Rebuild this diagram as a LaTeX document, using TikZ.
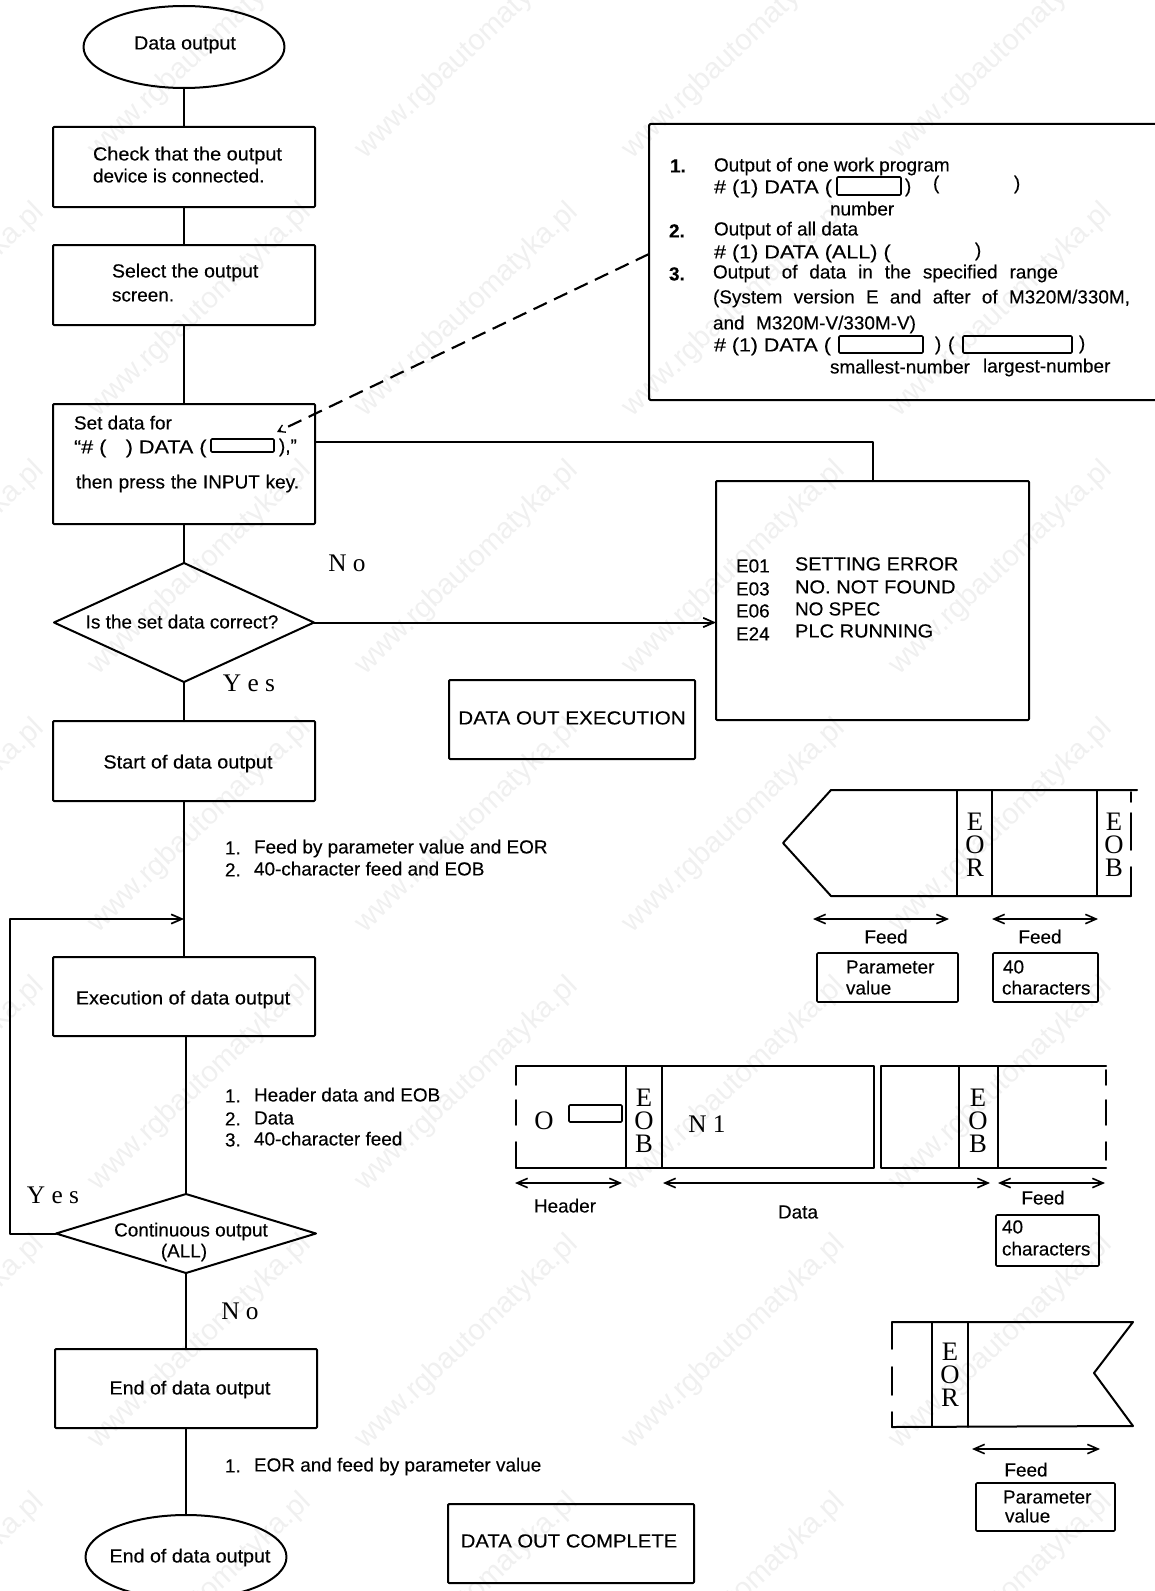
\documentclass[tikz,border=0pt]{standalone}
\usepackage{graphicx}
\usepackage{fontspec}
\setmainfont{Liberation Sans}
\newfontfamily\sanf[FakeBold=0.25]{Liberation Sans}
\newfontfamily\serf{Liberation Serif}
\usetikzlibrary{shapes.geometric,arrows.meta}
\newcount\tcnt
\tikzset{
  x=0.75pt,y=-0.75pt,
  ln/.style={line width=1.5pt,line cap=round,line join=round,black},
  thin ln/.style={line width=1.2pt,line cap=round,line join=round,black},
  boxs/.style={draw,ln,rectangle,rounded corners=0.8pt,inner sep=0,outer sep=0},
  sbox/.style={draw,thin ln,rectangle,rounded corners=0.8pt,inner sep=0,outer sep=0},
  ell/.style={draw,ln,ellipse,inner sep=0,outer sep=0},
  dia/.style={draw,ln,diamond,inner sep=0,outer sep=0},
  txt/.style={anchor=mid west,yshift=-2.2pt,inner sep=0,outer sep=0,font=\sanf\fontsize{14.2}{17}\selectfont,black},
  ctxt/.style={anchor=mid,yshift=-2.2pt,inner sep=0,outer sep=0,font=\sanf\fontsize{14.2}{17}\selectfont,black},
  ser/.style={anchor=center,inner sep=0,outer sep=0,font=\serf\fontsize{20}{24}\selectfont,black},
  lab/.style={anchor=center,inner sep=0,outer sep=0,font=\serf\fontsize{19}{22}\selectfont,black},
  wm/.style={anchor=center,inner sep=0,outer sep=0,rotate=43.5,font=\fontsize{22}{24}\selectfont,text=black!6},
  arr/.style={-{Straight Barb[length=8pt,width=7pt,line width=1.3pt]}},
  darr/.style={{Straight Barb[length=8pt,width=7pt,line width=1.2pt]}-{Straight Barb[length=8pt,width=7pt,line width=1.2pt]}},
}
\newcommand\bx[6][boxs]{\node[#1,minimum width={(#5-#3)*0.75pt},minimum height={(#6-#4)*0.75pt}] (#2) at ({(#3+#5)/2},{(#4+#6)/2}) {};}
\newcommand\tl[3]{\global\advance\tcnt by 1 \node[txt] (t\the\tcnt) at (#1,#2) {#3};}
\newcommand\tlw[4]{\global\advance\tcnt by 1 \node[txt] (t\the\tcnt) at (#1,#2) {\makebox[\dimexpr #3pt*3/4\relax][s]{#4}};}
\newcommand\hx[2]{\scalebox{#1}[1]{#2}}
\newcommand\tc[3]{\global\advance\tcnt by 1 \node[ctxt] (t\the\tcnt) at (#1,#2) {#3};}
\newcommand\sr[3]{\global\advance\tcnt by 1 \node[ser] (t\the\tcnt) at (#1,#2) {#3};}
\newcommand\lb[3]{\global\advance\tcnt by 1 \node[lab] (t\the\tcnt) at (#1,#2) {#3};}
\begin{document}
\begin{tikzpicture}
\useasboundingbox (0,0) rectangle (1155,1591);
% watermark
\foreach \i in {-2,...,3}{\foreach \j in {0,...,6}{
  \node[wm] (w\i\j) at ({467+267*\i},{52+258*\j}) {www.rgbautomatyka.pl};
}}
% main flow
\node[ell,minimum width=201*0.75pt,minimum height=82*0.75pt] (start) at (184,47) {};
\bx{b1}{53}{127}{315}{207}
\bx{b2}{53}{245}{315}{325}
\bx{b3}{53}{404}{315}{524}
\node[dia,minimum width=260*0.75pt,minimum height=119*0.75pt] (d1) at (184,622.5) {};
\bx{b4}{53}{721}{315}{801}
\bx{b5}{53}{957}{315}{1036}
\node[dia,minimum width=260*0.75pt,minimum height=79*0.75pt] (d2) at (186,1233.5) {};
\bx{b6}{55}{1349}{317}{1428}
\node[ell,minimum width=201*0.75pt,minimum height=84*0.75pt] (stop) at (186,1557) {};
\draw[ln] (start) -- (b1);
\draw[ln] (b1) -- (b2);
\draw[ln] (b2) -- (b3);
\draw[ln] (b3) -- (d1);
\draw[ln] (d1) -- (b4);
\draw[ln] (b4) -- (b5);
\draw[ln] (b5.south -| d2.north) -- (d2.north);
\draw[ln] (d2) -- (b6);
\draw[ln] (b6) -- (stop);
% right side boxes
\bx{err}{716}{481}{1029}{720}
\bx{ex}{449}{680}{695}{759}
\bx{co}{448}{1504}{694}{1583}
\coordinate (b3o) at (315,442);
\draw[ln] (b3o) -| (err.north);
\draw[ln,arr] (d1.east) -- (err.west |- d1.east);
\coordinate (j) at (184,919);
\coordinate (lt) at (10,919);
\draw[ln,arr] (d2.west) -| (lt) -- (j);
% info box (open at the right)
\draw[ln,rounded corners=1pt] (1155,124) -- (649,124) -- (649,400) -- (1155,400);
\coordinate (ds) at (649,254);
\coordinate (slot) at (277,432);
\draw[line width=1.6pt,black,dash pattern=on 11pt off 6pt,-{Straight Barb[length=5pt,width=6pt,line width=1pt]}] (ds) -- (slot);
% box inserts
\bx[sbox]{s0}{211}{439}{274}{452}
\bx[sbox]{s1}{837}{177}{901}{195}
\bx[sbox]{s2}{839}{336}{923}{353}
\bx[sbox]{s3}{963}{336}{1072}{353}
\bx[sbox]{s4}{569}{1105}{622}{1122}
% flow text
\tc{185}{43}{\hx{1.04}{Data output}}
\tl{93}{154}{\hx{1.05}{Check that the output}}
\tl{93}{176}{device is connected.}
\tl{112}{271}{\hx{1.03}{Select the output}}
\tl{112}{295}{screen.}
\tl{74}{423}{Set data for}
\tl{74}{447}{\hx{1.14}{“\# (\hspace{0.9em}) DATA (}}
\tl{279}{446}{),”}
\tlw{76}{482}{223}{then press the INPUT key.}
\tc{182}{622}{Is the set data correct?}
\tc{188}{762}{\hx{1.05}{Start of data output}}
\tc{183}{998}{\hx{1.05}{Execution of data output}}
\tc{191}{1230}{Continuous output}
\tc{184}{1251}{(ALL)}
\tc{190}{1388}{\hx{1.04}{End of data output}}
\tc{190}{1556}{\hx{1.04}{End of data output}}
\tc{572}{718}{\hx{1.09}{DATA OUT EXECUTION}}
\tc{569}{1541}{\hx{1.07}{DATA OUT COMPLETE}}
\lb{347}{563}{N o}
\lb{249}{683}{Y e s}
\lb{53}{1195}{Y e s}
\lb{240}{1311}{N o}
% step lists
\tl{225}{848}{1.}\tl{254}{847}{Feed by parameter value and EOR}
\tl{225}{870}{2.}\tl{254}{869}{40-character feed and EOB}
\tl{225}{1096}{1.}\tl{254}{1095}{Header data and EOB}
\tl{225}{1119}{2.}\tl{254}{1118}{Data}
\tl{225}{1140}{3.}\tl{254}{1139}{40-character feed}
\tl{225}{1466}{1.}\tl{254}{1465}{EOR and feed by parameter value}
% info text
\tl{670}{166}{\textbf{1.}}\tl{714}{165}{Output of one work program}
\tl{714}{187}{\hx{1.14}{\# (1) DATA (}}\tl{905}{186}{)}\tl{933}{183}{(}\tl{1014}{183}{)}
\tl{830}{209}{number}
\tl{669}{231}{\textbf{2.}}\tl{714}{229}{Output of all data}
\tl{714}{252}{\hx{1.14}{\# (1) DATA (ALL) (}}\tl{975}{250}{)}
\tl{669}{274}{\textbf{3.}}\tlw{713}{272}{345}{Output of data in the specified range}
\tlw{713}{297}{417}{(System version E and after of M320M/330M,}
\tlw{713}{323}{203}{and M320M-V/330M-V)}
\tl{714}{345}{\hx{1.13}{\# (1) DATA (}}\tl{935}{344}{)}\tl{948}{344}{(}\tl{1079}{343}{)}
\tl{830}{367}{smallest-number}\tl{983}{366}{largest-number}
% error text
\tl{736}{566}{E01}\tl{795}{564}{\hx{1.05}{SETTING ERROR}}
\tl{736}{589}{E03}\tl{795}{587}{\hx{1.06}{NO. NOT FOUND}}
\tl{736}{611}{E06}\tl{795}{609}{NO SPEC}
\tl{736}{634}{E24}\tl{795}{631}{\hx{1.06}{PLC RUNNING}}
% tape 1
\draw[ln] (1137,790) -- (831,790) -- (783,843) -- (831,896) -- (1131,896);
\draw[thin ln] (957,790) -- (957,896);
\draw[thin ln] (992,790) -- (992,896);
\draw[thin ln] (1097,790) -- (1097,896);
\draw[thin ln] (1131,792) -- (1131,802) (1131,813) -- (1131,850) (1131,867) -- (1131,896);
\sr{975}{822}{E}\sr{975}{845}{O}\sr{975}{868}{R}
\sr{1114}{822}{E}\sr{1114}{845}{O}\sr{1114}{868}{B}
\draw[thin ln,darr] (813,919) -- (949,919);
\draw[thin ln,darr] (992,919) -- (1098,919);
\tc{886}{937}{Feed}\tc{1040}{937}{Feed}
\bx[sbox]{p1}{817}{953}{958}{1002}
\bx[sbox]{c1}{993}{953}{1098}{1002}
\tl{846}{967}{Parameter}\tl{846}{988}{value}
\tl{1003}{967}{40}\tl{1002}{988}{characters}
% tape 2
\draw[ln] (516,1066) -- (874,1066) -- (874,1168) -- (516,1168);
\draw[ln] (1106,1066) -- (881,1066) -- (881,1168) -- (1106,1168);
\draw[thin ln] (516,1066) -- (516,1085) (516,1100) -- (516,1125) (516,1142) -- (516,1168);
\draw[thin ln] (1106,1070) -- (1106,1085) (1106,1100) -- (1106,1125) (1106,1142) -- (1106,1160);
\draw[thin ln] (626,1066) -- (626,1168);
\draw[thin ln] (662,1066) -- (662,1168);
\draw[thin ln] (959,1066) -- (959,1168);
\draw[thin ln] (998,1066) -- (998,1168);
\sr{544}{1121}{O}
\sr{644}{1098}{E}\sr{644}{1121}{O}\sr{644}{1144}{B}
\lb{707}{1124}{N 1}
\sr{978}{1098}{E}\sr{978}{1121}{O}\sr{978}{1144}{B}
\draw[thin ln,darr] (515,1183) -- (622,1183);
\draw[thin ln,darr] (663,1183) -- (990,1183);
\draw[thin ln,darr] (998,1183) -- (1105,1183);
\tc{565}{1206}{Header}\tc{798}{1212}{Data}\tc{1043}{1198}{Feed}
\bx[sbox]{c2}{996}{1215}{1099}{1266}
\tl{1002}{1227}{40}\tl{1002}{1249}{characters}
% tape 3
\draw[ln] (892,1322) -- (1133,1322) -- (1094,1373) -- (1133,1426) -- (892,1427);
\draw[thin ln] (892,1322) -- (892,1349) (892,1367) -- (892,1395) (892,1412) -- (892,1427);
\draw[thin ln] (932,1322) -- (932,1427);
\draw[thin ln] (968,1322) -- (968,1427);
\sr{950}{1352}{E}\sr{950}{1375}{O}\sr{950}{1398}{R}
\draw[thin ln,darr] (972,1449) -- (1100,1449);
\tc{1026}{1470}{Feed}
\bx[sbox]{p3}{976}{1483}{1115}{1531}
\tl{1003}{1497}{Parameter}\tl{1005}{1516}{value}
\end{tikzpicture}
\end{document}
